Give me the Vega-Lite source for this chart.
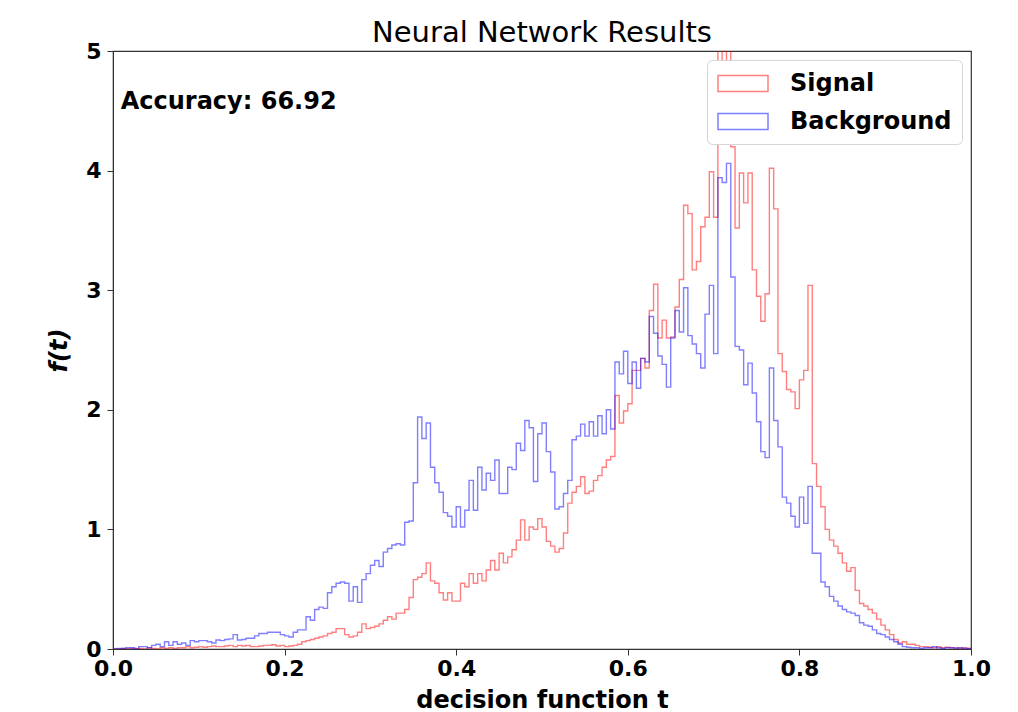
{
  "$schema": "https://vega.github.io/schema/vega-lite/v6.json",
  "width": 858,
  "height": 598,
  "padding": {"left": 47, "top": 19, "right": 28, "bottom": 0},
  "background": "white",
  "title": {"text": "Neural Network Results", "fontSize": 29, "fontWeight": "normal", "font": "DejaVu Sans", "color": "black", "offset": -8, "anchor": "middle"},
  "config": {
    "view": {"stroke": "#333", "strokeWidth": 1.2},
    "axis": {"labelFont": "DejaVu Sans", "labelFontWeight": "bold", "labelFontSize": 22, "labelColor": "black", "titleFont": "DejaVu Sans", "titleFontSize": 24, "titleFontWeight": "bold", "titleColor": "black", "tickColor": "#333", "domainColor": "#333", "tickSize": 6, "grid": false, "labelFlush": false, "labelOverlap": false}
  },
  "layer": [
    {
      "data": {"values": [
{"t":0.000,"Signal":0,"Background":0},{"t":0.005,"Signal":0,"Background":0.005},{"t":0.010,"Signal":0.005,"Background":0.005},{"t":0.015,"Signal":0,"Background":0.01},{"t":0.020,"Signal":0.005,"Background":0.01},
{"t":0.025,"Signal":0,"Background":0.005},{"t":0.030,"Signal":0.005,"Background":0.02},{"t":0.035,"Signal":0,"Background":0.02},{"t":0.040,"Signal":0.01,"Background":0.01},{"t":0.045,"Signal":0.005,"Background":0.03},
{"t":0.050,"Signal":0,"Background":0.04},{"t":0.055,"Signal":0.01,"Background":0.02},{"t":0.060,"Signal":0.005,"Background":0.06},{"t":0.065,"Signal":0.01,"Background":0.03},{"t":0.070,"Signal":0.005,"Background":0.06},
{"t":0.075,"Signal":0.01,"Background":0.04},{"t":0.080,"Signal":0.01,"Background":0.05},{"t":0.085,"Signal":0.02,"Background":0.03},{"t":0.090,"Signal":0.01,"Background":0.07},{"t":0.095,"Signal":0.015,"Background":0.06},
{"t":0.100,"Signal":0.02,"Background":0.07},{"t":0.105,"Signal":0.015,"Background":0.07},{"t":0.110,"Signal":0.02,"Background":0.06},{"t":0.115,"Signal":0.025,"Background":0.05},{"t":0.120,"Signal":0.02,"Background":0.075},
{"t":0.125,"Signal":0.02,"Background":0.07},{"t":0.130,"Signal":0.025,"Background":0.08},{"t":0.135,"Signal":0.03,"Background":0.085},{"t":0.140,"Signal":0.02,"Background":0.12},{"t":0.145,"Signal":0.03,"Background":0.075},
{"t":0.150,"Signal":0.025,"Background":0.08},{"t":0.155,"Signal":0.03,"Background":0.09},{"t":0.160,"Signal":0.02,"Background":0.09},{"t":0.165,"Signal":0.02,"Background":0.11},{"t":0.170,"Signal":0.025,"Background":0.13},
{"t":0.175,"Signal":0.03,"Background":0.13},{"t":0.180,"Signal":0.03,"Background":0.14},{"t":0.185,"Signal":0.035,"Background":0.14},{"t":0.190,"Signal":0.025,"Background":0.14},{"t":0.195,"Signal":0.03,"Background":0.12},
{"t":0.200,"Signal":0.02,"Background":0.11},{"t":0.205,"Signal":0.025,"Background":0.10},{"t":0.210,"Signal":0.03,"Background":0.14},{"t":0.215,"Signal":0.04,"Background":0.16},{"t":0.220,"Signal":0.06,"Background":0.16},
{"t":0.225,"Signal":0.07,"Background":0.27},{"t":0.230,"Signal":0.08,"Background":0.24},{"t":0.235,"Signal":0.09,"Background":0.33},{"t":0.240,"Signal":0.10,"Background":0.35},{"t":0.245,"Signal":0.11,"Background":0.34},
{"t":0.250,"Signal":0.13,"Background":0.47},{"t":0.255,"Signal":0.14,"Background":0.52},{"t":0.260,"Signal":0.17,"Background":0.55},{"t":0.265,"Signal":0.17,"Background":0.56},{"t":0.270,"Signal":0.12,"Background":0.55},
{"t":0.275,"Signal":0.10,"Background":0.40},{"t":0.280,"Signal":0.11,"Background":0.52},{"t":0.285,"Signal":0.14,"Background":0.39},{"t":0.290,"Signal":0.21,"Background":0.58},{"t":0.295,"Signal":0.17,"Background":0.63},
{"t":0.300,"Signal":0.18,"Background":0.70},{"t":0.305,"Signal":0.19,"Background":0.74},{"t":0.310,"Signal":0.21,"Background":0.69},{"t":0.315,"Signal":0.24,"Background":0.81},{"t":0.320,"Signal":0.27,"Background":0.84},
{"t":0.325,"Signal":0.25,"Background":0.87},{"t":0.330,"Signal":0.30,"Background":0.88},{"t":0.335,"Signal":0.30,"Background":0.87},{"t":0.340,"Signal":0.33,"Background":1.06},{"t":0.345,"Signal":0.43,"Background":1.07},
{"t":0.350,"Signal":0.58,"Background":1.39},{"t":0.355,"Signal":0.60,"Background":1.94},{"t":0.360,"Signal":0.63,"Background":1.76},{"t":0.365,"Signal":0.72,"Background":1.89},{"t":0.370,"Signal":0.57,"Background":1.52},
{"t":0.375,"Signal":0.55,"Background":1.39},{"t":0.380,"Signal":0.47,"Background":1.31},{"t":0.385,"Signal":0.41,"Background":1.14},{"t":0.390,"Signal":0.47,"Background":1.11},{"t":0.395,"Signal":0.40,"Background":1.02},
{"t":0.400,"Signal":0.40,"Background":1.19},{"t":0.405,"Signal":0.55,"Background":1.02},{"t":0.410,"Signal":0.52,"Background":1.16},{"t":0.415,"Signal":0.63,"Background":1.41},{"t":0.420,"Signal":0.55,"Background":1.16},
{"t":0.425,"Signal":0.63,"Background":1.52},{"t":0.430,"Signal":0.57,"Background":1.33},{"t":0.435,"Signal":0.66,"Background":1.47},{"t":0.440,"Signal":0.74,"Background":1.41},{"t":0.445,"Signal":0.66,"Background":1.58},
{"t":0.450,"Signal":0.80,"Background":1.30},{"t":0.455,"Signal":0.72,"Background":1.30},{"t":0.460,"Signal":0.77,"Background":1.52},{"t":0.465,"Signal":0.83,"Background":1.50},{"t":0.470,"Signal":0.91,"Background":1.72},
{"t":0.475,"Signal":1.08,"Background":1.66},{"t":0.480,"Signal":0.91,"Background":1.91},{"t":0.485,"Signal":1.02,"Background":1.85},{"t":0.490,"Signal":1.00,"Background":1.40},{"t":0.495,"Signal":1.09,"Background":1.80},
{"t":0.500,"Signal":1.02,"Background":1.89},{"t":0.505,"Signal":0.90,"Background":1.65},{"t":0.510,"Signal":0.86,"Background":1.48},{"t":0.515,"Signal":0.81,"Background":1.17},{"t":0.520,"Signal":0.84,"Background":1.19},
{"t":0.525,"Signal":0.97,"Background":1.30},{"t":0.530,"Signal":1.22,"Background":1.41},{"t":0.535,"Signal":1.31,"Background":1.75},{"t":0.540,"Signal":1.36,"Background":1.78},{"t":0.545,"Signal":1.44,"Background":1.88},
{"t":0.550,"Signal":1.30,"Background":1.78},{"t":0.555,"Signal":1.32,"Background":1.90},{"t":0.560,"Signal":1.41,"Background":1.78},{"t":0.565,"Signal":1.45,"Background":1.95},{"t":0.570,"Signal":1.52,"Background":1.80},
{"t":0.575,"Signal":1.58,"Background":2.00},{"t":0.580,"Signal":1.61,"Background":1.84},{"t":0.585,"Signal":2.12,"Background":2.40},{"t":0.590,"Signal":1.89,"Background":2.30},{"t":0.595,"Signal":1.99,"Background":2.49},
{"t":0.600,"Signal":2.05,"Background":2.22},{"t":0.605,"Signal":2.33,"Background":2.40},{"t":0.610,"Signal":2.33,"Background":2.18},{"t":0.615,"Signal":2.43,"Background":2.43},{"t":0.620,"Signal":2.35,"Background":2.40},
{"t":0.625,"Signal":2.83,"Background":2.78},{"t":0.630,"Signal":3.05,"Background":2.64},{"t":0.635,"Signal":2.60,"Background":2.45},{"t":0.640,"Signal":2.75,"Background":2.38},{"t":0.645,"Signal":2.60,"Background":2.19},
{"t":0.650,"Signal":2.61,"Background":2.60},{"t":0.655,"Signal":2.86,"Background":2.83},{"t":0.660,"Signal":3.09,"Background":2.65},{"t":0.665,"Signal":3.71,"Background":3.02},{"t":0.670,"Signal":3.64,"Background":2.62},
{"t":0.675,"Signal":3.17,"Background":2.55},{"t":0.680,"Signal":3.24,"Background":2.47},{"t":0.685,"Signal":3.53,"Background":2.35},{"t":0.690,"Signal":3.61,"Background":2.80},{"t":0.695,"Signal":3.99,"Background":3.04},
{"t":0.700,"Signal":3.61,"Background":2.47},{"t":0.705,"Signal":5.6,"Background":3.94},{"t":0.710,"Signal":4.85,"Background":3.90},{"t":0.715,"Signal":5.4,"Background":4.06},{"t":0.720,"Signal":4.20,"Background":3.11},
{"t":0.725,"Signal":3.52,"Background":2.53},{"t":0.730,"Signal":3.98,"Background":2.50},{"t":0.735,"Signal":3.73,"Background":2.21},{"t":0.740,"Signal":3.98,"Background":2.39},{"t":0.745,"Signal":3.17,"Background":2.14},
{"t":0.750,"Signal":2.95,"Background":1.90},{"t":0.755,"Signal":2.74,"Background":1.65},{"t":0.760,"Signal":2.97,"Background":1.60},{"t":0.765,"Signal":4.02,"Background":2.35},{"t":0.770,"Signal":3.68,"Background":1.91},
{"t":0.775,"Signal":2.47,"Background":1.69},{"t":0.780,"Signal":2.32,"Background":1.27},{"t":0.785,"Signal":2.17,"Background":1.22},{"t":0.790,"Signal":2.15,"Background":1.11},{"t":0.795,"Signal":2.01,"Background":1.02},
{"t":0.800,"Signal":2.25,"Background":1.27},{"t":0.805,"Signal":2.33,"Background":1.05},{"t":0.810,"Signal":3.04,"Background":1.36},{"t":0.815,"Signal":1.55,"Background":0.80},{"t":0.820,"Signal":1.36,"Background":0.80},
{"t":0.825,"Signal":1.19,"Background":0.56},{"t":0.830,"Signal":1.00,"Background":0.52},{"t":0.835,"Signal":0.91,"Background":0.44},{"t":0.840,"Signal":0.86,"Background":0.40},{"t":0.845,"Signal":0.80,"Background":0.36},
{"t":0.850,"Signal":0.72,"Background":0.33},{"t":0.855,"Signal":0.65,"Background":0.31},{"t":0.860,"Signal":0.68,"Background":0.30},{"t":0.865,"Signal":0.49,"Background":0.28},{"t":0.870,"Signal":0.38,"Background":0.22},
{"t":0.875,"Signal":0.36,"Background":0.20},{"t":0.880,"Signal":0.33,"Background":0.19},{"t":0.885,"Signal":0.30,"Background":0.16},{"t":0.890,"Signal":0.25,"Background":0.13},{"t":0.895,"Signal":0.20,"Background":0.12},
{"t":0.900,"Signal":0.16,"Background":0.10},{"t":0.905,"Signal":0.12,"Background":0.08},{"t":0.910,"Signal":0.08,"Background":0.06},{"t":0.915,"Signal":0.05,"Background":0.04},{"t":0.920,"Signal":0.06,"Background":0.02},
{"t":0.925,"Signal":0.04,"Background":0.015},{"t":0.930,"Signal":0.04,"Background":0.01},{"t":0.935,"Signal":0.03,"Background":0.01},{"t":0.940,"Signal":0.02,"Background":0.005},{"t":0.945,"Signal":0.02,"Background":0.01},
{"t":0.950,"Signal":0.015,"Background":0.01},{"t":0.955,"Signal":0.01,"Background":0.02},{"t":0.960,"Signal":0.02,"Background":0.01},{"t":0.965,"Signal":0.01,"Background":0.005},{"t":0.970,"Signal":0.015,"Background":0.01},
{"t":0.975,"Signal":0.01,"Background":0.01},{"t":0.980,"Signal":0.01,"Background":0.005},{"t":0.985,"Signal":0.005,"Background":0.01},{"t":0.990,"Signal":0.01,"Background":0.005},{"t":0.995,"Signal":0.005,"Background":0.005},
{"t":1.000,"Signal":0,"Background":0}
      ]},
      "transform": [{"fold": ["Signal", "Background"], "as": ["series", "f"]}],
      "mark": {"type": "line", "interpolate": "step-after", "strokeWidth": 1.4, "opacity": 0.5, "clip": true},
      "encoding": {
        "x": {"field": "t", "type": "quantitative", "scale": {"domain": [0, 1], "nice": false, "zero": false},
              "axis": {"values": [0, 0.2, 0.4, 0.6, 0.8, 1.0], "format": ".1f", "title": "decision function t", "labelPadding": 3, "titlePadding": 9}},
        "y": {"field": "f", "type": "quantitative", "scale": {"domain": [0, 5], "nice": false},
              "axis": {"values": [0, 1, 2, 3, 4, 5], "format": "d", "title": "f(t)", "titleFontStyle": "italic", "labelPadding": 6, "titlePadding": 14}},
        "color": {"field": "series", "type": "nominal", "sort": ["Signal", "Background"],
                  "scale": {"domain": ["Signal", "Background"], "range": ["red", "blue"]},
                  "legend": {"title": null, "orient": "top-right", "offset": 9, "labelFont": "DejaVu Sans", "labelFontSize": 24, "labelFontWeight": "bold", "labelColor": "black", "labelLimit": 0,
                             "symbolType": "M-1,-0.64H3V0.64H-1Z", "symbolSize": 625, "symbolStrokeWidth": 1.5, "symbolOpacity": 0.5, "symbolFillColor": "transparent",
                             "fillColor": "white", "strokeColor": "#d6d6d6", "cornerRadius": 5, "padding": 10, "rowPadding": 12, "labelOffset": 46}}
      }
    },
    {
      "data": {"values": [{"label": "Accuracy: 66.92"}]},
      "mark": {"type": "text", "align": "left", "baseline": "middle", "font": "DejaVu Sans", "fontSize": 24, "fontWeight": "bold", "color": "black"},
      "encoding": {
        "x": {"datum": 0.009, "type": "quantitative"},
        "y": {"datum": 4.57, "type": "quantitative"},
        "text": {"field": "label"}
      }
    }
  ]
}
